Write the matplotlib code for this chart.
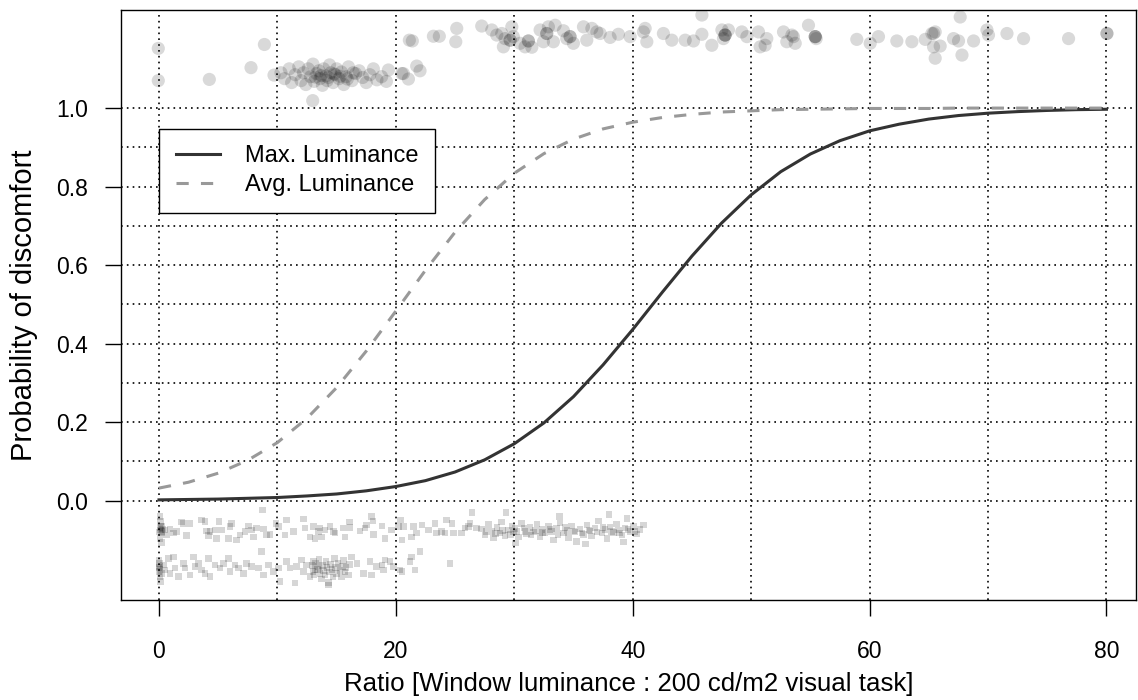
import matplotlib
matplotlib.use('Agg')
import matplotlib.pyplot as plt

plt.rcParams['font.family'] = ['Liberation Sans', 'DejaVu Sans']

# fitted curves, every 2.5 units
CURVE_X = [0, 2.5, 5, 7.5, 10, 12.5, 15, 17.5, 20, 22.5, 25, 27.5, 30, 32.5,
           35, 37.5, 40, 42.5, 45, 47.5, 50, 52.5, 55, 57.5, 60, 62.5, 65,
           67.5, 70, 72.5, 75, 77.5, 80]
MAX_P = [0.002, 0.003, 0.004, 0.006, 0.008, 0.012, 0.017, 0.025, 0.036,
         0.051, 0.073, 0.104, 0.145, 0.198, 0.265, 0.346, 0.436, 0.531,
         0.623, 0.707, 0.779, 0.838, 0.883, 0.917, 0.942, 0.959, 0.972,
         0.981, 0.987, 0.991, 0.994, 0.996, 0.997]
AVG_P = [0.032, 0.047, 0.070, 0.103, 0.148, 0.210, 0.288, 0.381, 0.483,
         0.587, 0.684, 0.767, 0.834, 0.884, 0.921, 0.947, 0.964, 0.976,
         0.984, 0.990, 0.993, 0.996, 0.997, 0.998, 0.999, 0.999, 0.999,
         1.0, 1.0, 1.0, 1.0, 1.0, 1.0]

# jittered observations, discomfort = 1 (drawn above 1.0)
AVG_YES_X = [-0.06, 4.25, 7.77, 9.71, 12.98, 19.37, 20.5, 20.63, 21.06, 21.76,
             22.04, 10.3, 10.6, 11.0, 11.2, 11.5, 11.8, 12.0, 12.2, 12.4, 12.6,
             12.8, 13.0, 13.1, 13.3, 13.5, 13.6, 13.8, 13.9, 14.1, 14.2, 14.4,
             14.5, 14.7, 14.9, 15.0, 15.2, 15.4, 15.6, 15.8, 16.0, 16.3, 16.6,
             16.9, 17.2, 17.5, 17.8, 18.1, 18.4, 18.8, 19.2, 13.7, 14.3, 14.8,
             15.3, 15.9, 13.2, 16.4]
AVG_YES_Y = [1.070, 1.073, 1.103, 1.084, 1.019, 1.097, 1.088, 1.088, 1.074,
             1.107, 1.095, 1.09, 1.075, 1.1, 1.065, 1.085, 1.105, 1.07, 1.09,
             1.06, 1.1, 1.08, 1.112, 1.068, 1.088, 1.095, 1.075, 1.058, 1.1,
             1.082, 1.07, 1.11, 1.09, 1.065, 1.085, 1.1, 1.075, 1.092, 1.06,
             1.08, 1.105, 1.07, 1.088, 1.095, 1.078, 1.065, 1.085, 1.1, 1.072,
             1.08, 1.068, 1.083, 1.078, 1.087, 1.081, 1.074, 1.079, 1.09]

MAX_YES_X = [-0.06, 8.9, 21.14, 21.39, 23.17, 23.67, 25.14, 25.06, 27.25, 28.1,
             28.52, 28.94, 29.22, 29.65, 29.79, 29.92, 29.08, 30.49, 30.91,
             31.19, 31.48, 32.18, 32.46, 32.74, 32.88, 33.3, 33.45, 34.15,
             34.71, 34.99, 34.43, 35.84, 36.12, 36.55, 36.97, 37.25, 38.09,
             38.79, 39.78, 41.05, 41.19, 40.9, 42.59, 43.3, 44.43, 45.13, 45.84,
             45.84, 46.68, 47.53, 47.66, 48.08, 47.8, 49.21, 49.64, 50.62,
             50.76, 51.32, 51.18, 52.73, 53.01, 53.57, 53.72, 53.44, 54.84,
             55.41, 55.49, 58.92, 60.05, 60.75, 62.3, 63.57, 64.7, 65.26, 65.54,
             65.4, 65.96, 65.54, 67.09, 67.51, 67.65, 67.8, 68.78, 69.91, 70.04,
             71.6, 73.0, 76.8, 80.04, 80.04, 32.74, 34.71, 47.8, 47.8, 55.41,
             55.41, 65.4, 29.65, 31.19]
MAX_YES_Y = [1.152, 1.162, 1.173, 1.171, 1.183, 1.183, 1.203, 1.169, 1.209,
             1.199, 1.186, 1.190, 1.177, 1.173, 1.207, 1.182, 1.156, 1.165,
             1.156, 1.171, 1.155, 1.199, 1.169, 1.190, 1.207, 1.169, 1.211,
             1.197, 1.182, 1.165, 1.177, 1.207, 1.173, 1.203, 1.194, 1.190,
             1.180, 1.188, 1.182, 1.203, 1.169, 1.194, 1.190, 1.173, 1.173,
             1.171, 1.188, 1.237, 1.160, 1.199, 1.177, 1.199, 1.186, 1.194,
             1.182, 1.194, 1.156, 1.177, 1.160, 1.194, 1.169, 1.182, 1.165,
             1.186, 1.211, 1.182, 1.177, 1.175, 1.165, 1.182, 1.171, 1.169,
             1.175, 1.190, 1.194, 1.156, 1.158, 1.127, 1.177, 1.171, 1.232,
             1.135, 1.171, 1.199, 1.186, 1.190, 1.177, 1.177, 1.190, 1.190,
             1.190, 1.182, 1.186, 1.186, 1.182, 1.182, 1.190, 1.173, 1.171]

# jittered observations, discomfort = 0 (drawn below 0.0)
MAX_NO_X = [0.08, 0.14, 0.23, 0.14, 0.25, 0.08, 0.2, 0.51, 0.65, 0.93, 1.21,
            1.49, 1.91, 2.06, 2.62, 2.34, 3.6, 3.88, 4.03, 4.31, 4.17, 4.73,
            4.87, 5.07, 5.29, 5.86, 6.0, 6.14, 6.56, 6.84, 7.26, 7.54, 7.83,
            7.97, 8.25, 8.76, 8.81, 9.09, 9.37, 9.88, 10.08, 10.64, 10.78, 11.34,
            12.19, 12.33, 12.75, 13.03, 13.17, 13.45, 0.1, 0.2, 0.05, 0.3, 0.15,
            13.6, 13.74, 14.02, 14.44, 14.86, 14.72, 15.57, 15.71, 16.07, 16.13,
            16.98, 17.4, 17.54, 17.96, 18.05, 18.1, 18.81, 19.09, 19.65, 20.21,
            20.41, 20.64, 20.5, 21.48, 21.34, 21.76, 22.19, 22.75, 23.31, 23.45,
            23.87, 24.29, 24.15, 24.72, 24.86, 25.56, 25.84, 26.13, 26.41, 26.27,
            26.83, 27.25, 27.53, 27.82, 28.1, 28.24, 28.52, 28.8, 28.94, 29.22,
            29.5, 29.79, 29.93, 30.07, 30.35, 30.63, 30.91, 31.05, 31.33, 31.62,
            31.9, 32.18, 32.32, 32.6, 32.88, 33.16, 33.3, 33.58, 33.87, 34.15,
            34.43, 34.57, 34.85, 35.13, 35.27, 35.55, 35.84, 36.12, 36.4, 36.54,
            36.82, 37.1, 37.39, 37.67, 37.81, 38.09, 38.37, 38.65, 38.79, 39.08,
            39.36, 39.5, 39.78, 40.06, 40.34, 40.62, 40.91, 27.6, 28.4, 29.0,
            29.7, 30.2, 30.8, 31.4, 31.8, 32.4, 33.0, 33.7, 34.3, 35.0, 35.7,
            36.3, 37.0, 37.5, 38.2, 38.9, 39.6, 40.2, 29.3, 33.8, 38.0, 30.1,
            36.0, 39.2]
MAX_NO_Y = [-0.041, -0.053, -0.066, -0.075, -0.083, -0.096, -0.106, -0.075,
            -0.087, -0.072, -0.083, -0.079, -0.055, -0.058, -0.058, -0.089,
            -0.049, -0.053, -0.077, -0.079, -0.089, -0.075, -0.096, -0.053,
            -0.075, -0.096, -0.066, -0.058, -0.1, -0.087, -0.079, -0.064,
            -0.075, -0.092, -0.07, -0.024, -0.072, -0.087, -0.086, -0.058,
            -0.066, -0.087, -0.049, -0.079, -0.047, -0.07, -0.092, -0.066,
            -0.096, -0.079, -0.07, -0.078, -0.08, -0.072, -0.065, -0.07, -0.092,
            -0.075, -0.066, -0.083, -0.079, -0.07, -0.092, -0.055, -0.069,
            -0.077, -0.07, -0.062, -0.041, -0.052, -0.086, -0.064, -0.096,
            -0.075, -0.066, -0.049, -0.066, -0.1, -0.066, -0.092, -0.083,
            -0.062, -0.075, -0.058, -0.083, -0.079, -0.049, -0.083, -0.058,
            -0.083, -0.083, -0.07, -0.066, -0.03, -0.058, -0.07, -0.072, -0.088,
            -0.061, -0.079, -0.095, -0.068, -0.082, -0.055, -0.089, -0.075,
            -0.064, -0.08, -0.071, -0.092, -0.058, -0.078, -0.085, -0.069,
            -0.08, -0.06, -0.091, -0.074, -0.083, -0.066, -0.078, -0.1, -0.071,
            -0.057, -0.083, -0.076, -0.094, -0.065, -0.08, -0.104, -0.072,
            -0.086, -0.062, -0.077, -0.09, -0.07, -0.052, -0.083, -0.074,
            -0.096, -0.067, -0.081, -0.059, -0.075, -0.088, -0.07, -0.045,
            -0.079, -0.066, -0.085, -0.073, -0.062, -0.078, -0.084, -0.076,
            -0.086, -0.079, -0.07, -0.088, -0.076, -0.081, -0.073, -0.087,
            -0.068, -0.077, -0.082, -0.075, -0.08, -0.068, -0.078, -0.083,
            -0.074, -0.078, -0.03, -0.04, -0.035, -0.108, -0.11, -0.105]

AVG_NO_X = [0.0, 0.03, 0.0, 0.08, 0.14, 0.37, 0.51, 0.79, 0.93, 1.21, 1.35,
            1.63, 2.06, 2.2, 2.62, 2.9, 3.04, 3.32, 3.6, 3.88, 4.17, 4.31, 4.73,
            5.15, 5.43, 5.86, 6.0, 6.42, 6.7, 7.12, 7.4, 7.83, 8.39, 8.67, 8.81,
            9.23, 9.66, 10.08, 10.22, 10.78, 11.06, 11.49, 11.63, 12.05, 12.19,
            12.47, 12.75, 13.03, 13.17, 13.45, 0.1, 0.05, 0.2, 0.0, 12.9, 13.0,
            13.1, 13.2, 13.4, 13.5, 13.6, 13.7, 13.8, 13.9, 14.0, 14.1, 14.2,
            14.3, 14.4, 14.5, 14.6, 14.7, 14.8, 14.9, 15.0, 15.1, 15.3, 15.4,
            15.5, 15.6, 15.7, 15.8, 16.0, 16.1, 16.27, 16.7, 17.26, 17.82, 17.96,
            18.38, 18.81, 18.95, 19.09, 19.51, 19.79, 20.36, 20.5, 21.2, 21.34,
            21.62, 22.05, 24.58, 14.3]
AVG_NO_Y = [-0.151, -0.168, -0.181, -0.193, -0.206, -0.164, -0.177, -0.147,
            -0.185, -0.143, -0.172, -0.193, -0.16, -0.172, -0.189, -0.143,
            -0.168, -0.16, -0.177, -0.185, -0.147, -0.193, -0.164, -0.172,
            -0.16, -0.147, -0.181, -0.164, -0.172, -0.185, -0.16, -0.168,
            -0.172, -0.13, -0.189, -0.164, -0.181, -0.172, -0.206, -0.155,
            -0.172, -0.21, -0.168, -0.151, -0.181, -0.164, -0.193, -0.155,
            -0.177, -0.168, -0.175, -0.16, -0.185, -0.17, -0.165, -0.18, -0.19,
            -0.16, -0.175, -0.15, -0.185, -0.2, -0.165, -0.178, -0.19, -0.155,
            -0.17, -0.208, -0.182, -0.162, -0.175, -0.195, -0.148, -0.17,
            -0.185, -0.16, -0.178, -0.195, -0.168, -0.152, -0.182, -0.17,
            -0.19, -0.163, -0.143, -0.16, -0.185, -0.155, -0.189, -0.168,
            -0.164, -0.177, -0.151, -0.155, -0.168, -0.177, -0.181, -0.155,
            -0.143, -0.177, -0.13, -0.16, -0.215]

X_TICKS = [0, 20, 40, 60, 80]
Y_TICKS = [0.0, 0.2, 0.4, 0.6, 0.8, 1.0]

fig = plt.figure(figsize=(11.38, 7.0), dpi=100)
ax = fig.add_axes([0.1061, 0.1429, 0.8922, 0.8429])

# dotted reference grid every 10 units / 0.1 probability
for gx in range(0, 81, 10):
    ax.axvline(gx, color='black', lw=1.2, ls=(0, (1, 2.5)), zorder=1)
for gy in [i / 10 for i in range(11)]:
    ax.axhline(gy, color='black', lw=1.2, ls=(0, (1, 2.5)), zorder=1)

ax.scatter(AVG_YES_X + MAX_YES_X, AVG_YES_Y + MAX_YES_Y, s=90, marker='o',
           color='black', alpha=0.15, edgecolors='none', zorder=2)
ax.scatter(MAX_NO_X + AVG_NO_X, MAX_NO_Y + AVG_NO_Y, s=22, marker='s',
           color='black', alpha=0.16, edgecolors='none', zorder=2)

ax.plot(CURVE_X, MAX_P, color='#333333', lw=2.2, label='Max. Luminance',
        zorder=3)
ax.plot(CURVE_X, AVG_P, color='#999999', lw=2.2, ls=(0, (4, 4)),
        label='Avg. Luminance', zorder=3)

ax.set_xlim(-3.23, 82.5)
ax.set_ylim(-0.253, 1.25)
ax.set_xticks(X_TICKS)
ax.set_yticks(Y_TICKS)
ax.set_yticklabels([f'{v:.1f}' for v in Y_TICKS])
ax.tick_params(direction='out', length=11.5, width=1.0, labelsize=16.5)
ax.tick_params(axis='y', pad=12)
ax.tick_params(axis='x', pad=17.5)
for sp in ax.spines.values():
    sp.set_linewidth(1.0)

ax.set_xlabel('Ratio [Window luminance : 200 cd/m2 visual task]',
              fontsize=18.6, labelpad=6)
ax.set_ylabel('Probability of discomfort', fontsize=21, labelpad=12.8)

leg = ax.legend(loc='upper left', bbox_to_anchor=(0.0, 0.947),
                bbox_transform=ax.transData, fontsize=17, frameon=True,
                fancybox=False, edgecolor='black', framealpha=1.0,
                handlelength=1.9, handletextpad=1.05, borderpad=0.7,
                labelspacing=0.3, borderaxespad=0.0)
leg.get_frame().set_linewidth(1.0)

fig.savefig('out.png', dpi=100)
